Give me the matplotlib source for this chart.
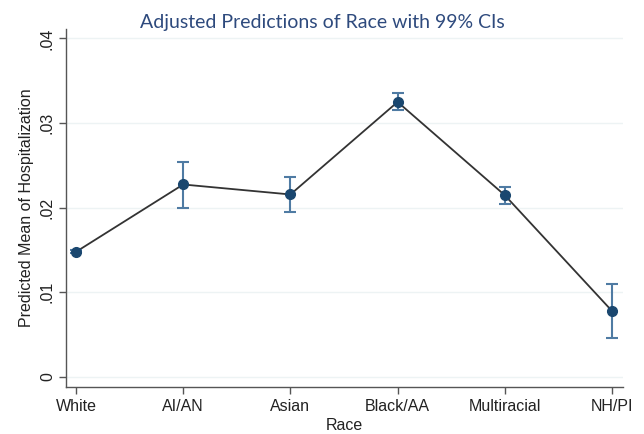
# Adjusted predictions of hospitalization by race, with 99% CIs

import matplotlib.pyplot as plt
import numpy as np

races = ['White', 'AI/AN', 'Asian', 'Black/AA', 'Multiracial', 'NH/PI']
pred = [0.01478, 0.02274, 0.02156, 0.03249, 0.02147, 0.00779]
ci_low = [0.01460, 0.02002, 0.01950, 0.03150, 0.02040, 0.00460]
ci_high = [0.01496, 0.02534, 0.02357, 0.03360, 0.02246, 0.01097]
yticks = [0, 0.01, 0.02, 0.03, 0.04]
ytick_labels = ['0', '.01', '.02', '.03', '.04']

if __name__ == '__main__':
    plt.rcParams['font.family'] = ['Liberation Sans', 'DejaVu Sans']

    fig = plt.figure(figsize=(6.44, 4.34), dpi=100)
    ax = fig.add_axes([0.1025, 0.109, 0.8645, 0.824])

    x = np.arange(len(races))
    pred = np.array(pred)
    err = [pred - np.array(ci_low), np.array(ci_high) - pred]

    # horizontal grid lines, very faint
    for t in yticks:
        ax.axhline(t, color='#edf3f4', linewidth=1.0, zorder=0)

    ax.plot(x, pred, color='#333333', linewidth=1.3, zorder=2)
    ax.errorbar(x, pred, yerr=err, fmt='none', ecolor='#4f7ba3',
                elinewidth=1.5, capsize=4, capthick=1.5, zorder=3)
    ax.plot(x, pred, 'o', color='#1a476f', markersize=7, zorder=4)

    ax.set_xlim(-0.093, 5.10)
    ax.set_ylim(-0.00115, 0.0411)
    ax.set_xticks(x)
    ax.set_xticklabels(races, fontsize=11.5, color='#222222')
    ax.set_yticks(yticks)
    ax.set_yticklabels(ytick_labels, fontsize=11.5, color='#222222',
                       rotation=90, va='center')

    for s in ['top', 'right']:
        ax.spines[s].set_visible(False)
    for s in ['left', 'bottom']:
        ax.spines[s].set_color('#555555')
        ax.spines[s].set_linewidth(1.0)
    ax.tick_params(axis='both', direction='out', length=5, color='#555555', width=1.0)
    ax.tick_params(axis='x', pad=4)
    ax.tick_params(axis='y', pad=3)

    ax.set_xlabel('Race', fontsize=11.5, color='#222222', labelpad=3)
    ax.set_ylabel('Predicted Mean of Hospitalization', fontsize=11.5, color='#222222', labelpad=4)

    fig.text(0.5, 0.936, 'Adjusted Predictions of Race with 99% CIs',
             ha='center', va='baseline', fontsize=14, color='#2e4a7d',
             family=['Lato', 'DejaVu Sans'])

    plt.savefig('out.png', dpi=100)
